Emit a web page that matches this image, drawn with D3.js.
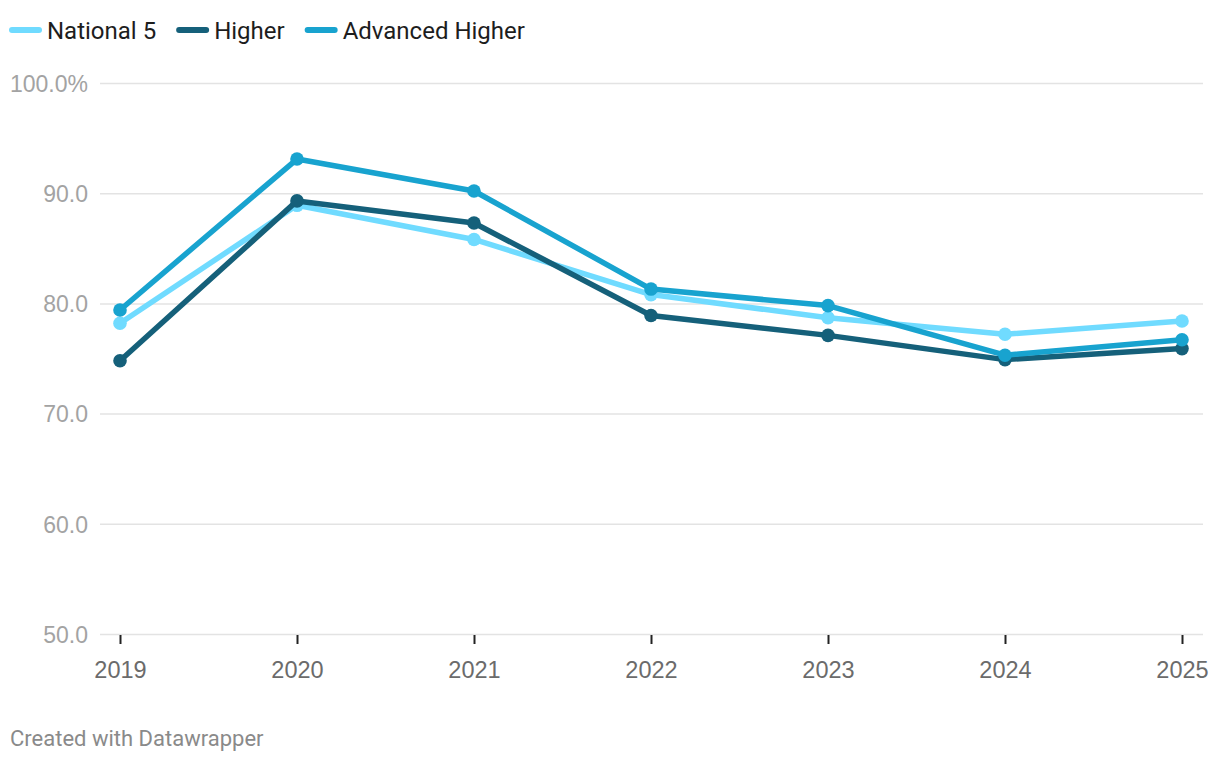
<!DOCTYPE html>
<html lang="en">
<head>
  <meta charset="UTF-8" />
  <title>National 5, Higher, Advanced Higher</title>
  <script src="https://cdn.jsdelivr.net/npm/d3@7"></script>
  <style>
    body { margin: 0; background: #fff; font-family: Roboto, sans-serif; }
    .legend text { font-size: 24px; fill: #1d1d1d; }
    .y-axis text { font-size: 23px; fill: #a3a3a3; }
    .x-axis text { font-size: 23.5px; fill: #6b6b6b; }
    .footer { font-size: 22px; fill: #8a8a8a; }
  </style>
</head>
<body>
<script>
  const years = ["2019", "2020", "2021", "2022", "2023", "2024", "2025"];
  const national5 = [78.2, 88.9, 85.8, 80.8, 78.7, 77.2, 78.4];
  const higher = [74.8, 89.3, 87.3, 78.9, 77.1, 74.9, 75.9];
  const advancedHigher = [79.4, 93.1, 90.2, 81.3, 79.8, 75.3, 76.7];
  const yTicks = [50, 60, 70, 80, 90, 100];

  const series = [
    { name: "National 5", color: "#70dbff", values: national5 },
    { name: "Higher", color: "#15607a", values: higher },
    { name: "Advanced Higher", color: "#18a3cf", values: advancedHigher }
  ];

  const W = 1220, H = 762;
  const svg = d3.select("body").append("svg").attr("width", W).attr("height", H);

  const x = d3.scalePoint().domain(years).range([120, 1182]);
  const y = d3.scaleLinear().domain([50, 100]).range([634, 83]);

  // gridlines + y labels
  const yAxis = svg.append("g").attr("class", "y-axis")
    .attr("transform", "translate(100,0)")
    .call(d3.axisLeft(y).tickValues(yTicks).tickSize(-1103).tickPadding(12)
      .tickFormat(d => d === 100 ? d.toFixed(1) + "%" : d.toFixed(1)));
  yAxis.select(".domain").remove();
  yAxis.selectAll("line").attr("stroke", "#e3e3e3").attr("stroke-width", 1.5);
  yAxis.selectAll("text").attr("x", -12).attr("dy", "0.36em");

  // x axis ticks + labels
  const xAxis = svg.append("g").attr("class", "x-axis")
    .attr("transform", "translate(0,635)")
    .call(d3.axisBottom(x).tickSize(9).tickPadding(17));
  xAxis.select(".domain").remove();
  xAxis.selectAll("line").attr("stroke", "#222").attr("stroke-width", 2);

  const line = d3.line().x((d, i) => x(years[i])).y(d => y(d));

  series.forEach(s => {
    const g = svg.append("g");
    g.append("path")
      .attr("d", line(s.values))
      .attr("fill", "none")
      .attr("stroke", s.color)
      .attr("stroke-width", 5.5)
      .attr("stroke-linejoin", "round");
    g.selectAll("circle")
      .data(s.values)
      .enter()
      .append("circle")
      .attr("cx", (d, i) => x(years[i]))
      .attr("cy", d => y(d))
      .attr("r", 6.8)
      .attr("fill", s.color);
  });

  // legend
  const legend = svg.append("g").attr("class", "legend").attr("transform", "translate(0,30)");
  let lx = 12;
  series.forEach(s => {
    const item = legend.append("g").attr("transform", `translate(${lx},0)`);
    item.append("line")
      .attr("x1", 0).attr("x2", 27).attr("y1", 0).attr("y2", 0)
      .attr("stroke", s.color).attr("stroke-width", 6).attr("stroke-linecap", "round");
    const t = item.append("text").attr("x", 35).attr("dy", "0.36em").text(s.name);
    lx += 35 + t.node().getComputedTextLength() + 23;
  });

  svg.append("text").attr("class", "footer")
    .attr("x", 10).attr("y", 746)
    .text("Created with Datawrapper");
</script>
</body>
</html>
